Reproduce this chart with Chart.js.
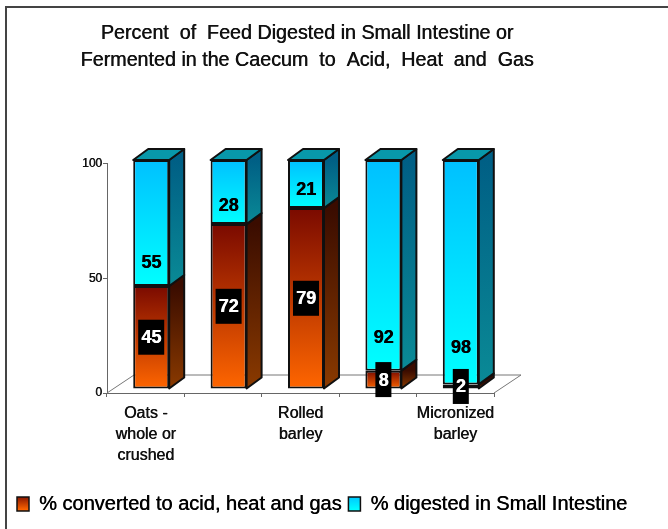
<!DOCTYPE html>
<html>
<head>
<meta charset="utf-8">
<style>
  html, body { margin: 0; padding: 0; background: #fff; }
  #wrap { position: relative; width: 668px; height: 529px; overflow: hidden; }
  #frame { position: absolute; left: 5px; top: 6px; width: 700px; height: 600px; border: 2px solid #444; }
  canvas { position: absolute; left: 0; top: 0; filter: blur(0.5px); }
</style>
<script src="https://cdn.jsdelivr.net/npm/chart.js@4/dist/chart.umd.min.js"></script>
</head>
<body>
<div id="wrap">
  <div id="frame"></div>
  <canvas id="myChart" width="668" height="529"></canvas>
</div>
<script>
const categories = [["Oats -", "whole or", "crushed"], "", ["Rolled", "barley"], "", ["Micronized", "barley"]];
const converted = [45, 72, 79, 8, 2];
const digested = [55, 28, 21, 92, 98];
const titleLines = ["Percent  of  Feed Digested in Small Intestine or", "Fermented in the Caecum  to  Acid,  Heat  and  Gas"];
const seriesNames = ["% converted to acid, heat and gas", "% digested in Small Intestine"];
const yTicks = [0, 50, 100];

// how far above the segment base the cyan labels sit, in px
const labelLift = [23, 18, 18, 33, 36];

const FONT = "'Liberation Sans', Arial, sans-serif";
const SHIFT_X = 5.5, SHIFT_Y = -4;   // bars stand a bit inside the floor
const DEPTH_X = 15, DEPTH_Y = -11;   // side faces
const FLOOR_X = 27, FLOOR_Y = -18;

// reference text is heavier than the regular face, so strike it twice
const canvas = document.getElementById("myChart");
const rawCtx = canvas.getContext("2d");
const plainFillText = rawCtx.fillText.bind(rawCtx);
rawCtx.fillText = function (t, x, y, m) {
  if (m === undefined) { plainFillText(t, x, y); plainFillText(t, x + 0.5, y); }
  else { plainFillText(t, x, y, m); plainFillText(t, x + 0.5, y, m); }
};

function barGradient(ctx, top, bottom, from, to) {
  let g = ctx.createLinearGradient(0, top, 0, bottom);
  g.addColorStop(0, from);
  g.addColorStop(1, to);
  return g;
}

// fill runs over one segment, from its top value down to its base value
function segmentFill(from, to, below) {
  return function (c) {
    if (c.type !== "data") return to;
    let y = c.chart.scales.y;
    let base = below ? below[c.dataIndex] : 0;
    let value = c.dataset.data[c.dataIndex];
    return barGradient(c.chart.ctx, y.getPixelForValue(base + value), y.getPixelForValue(base), from, to);
  };
}

function sideFace(ctx, el, from, to) {
  let right = el.x + el.width / 2;
  ctx.beginPath();
  ctx.moveTo(right, el.y);
  ctx.lineTo(right + DEPTH_X, el.y + DEPTH_Y);
  ctx.lineTo(right + DEPTH_X, el.base + DEPTH_Y);
  ctx.lineTo(right, el.base);
  ctx.closePath();
  ctx.fillStyle = barGradient(ctx, el.y, el.base, from, to);
  ctx.fill();
  ctx.stroke();
}

const depthPlugin = {
  id: "depth",
  afterLayout(chart) {
    // the title block is centred a little left of the page
    chart.titleBlock.left = 0;
    chart.titleBlock.right = 614;
  },
  beforeDatasetsDraw(chart) {
    let ctx = chart.ctx, a = chart.chartArea;
    ctx.save();
    // floor
    ctx.strokeStyle = "#777";
    ctx.lineWidth = 1;
    ctx.beginPath();
    ctx.moveTo(a.left, a.bottom);
    ctx.lineTo(a.left + FLOOR_X, a.bottom + FLOOR_Y);
    ctx.lineTo(a.right + FLOOR_X, a.bottom + FLOOR_Y);
    ctx.lineTo(a.right, a.bottom);
    ctx.stroke();
    ctx.restore();

    ctx.save();
    ctx.translate(SHIFT_X, SHIFT_Y);
    ctx.strokeStyle = "#101010";
    ctx.lineWidth = 2;
    ctx.lineJoin = "round";
    let low = chart.getDatasetMeta(0).data, high = chart.getDatasetMeta(1).data;
    low.forEach(function (el, i) {
      sideFace(ctx, el, "#3a0c00", "#8a3a00");
      let up = high[i];
      sideFace(ctx, up, "#005f85", "#0a8a96");
      let l = up.x - up.width / 2, r = up.x + up.width / 2;
      ctx.beginPath();
      ctx.moveTo(l, up.y);
      ctx.lineTo(l + DEPTH_X, up.y + DEPTH_Y);
      ctx.lineTo(r + DEPTH_X, up.y + DEPTH_Y);
      ctx.lineTo(r, up.y);
      ctx.closePath();
      ctx.fillStyle = "#0898aa";
      ctx.fill();
      ctx.stroke();
    });
    // bars get drawn next, still shifted
  },
  afterDatasetsDraw(chart) {
    let ctx = chart.ctx;
    let low = chart.getDatasetMeta(0).data, high = chart.getDatasetMeta(1).data;
    ctx.font = "bold 18px " + FONT;
    ctx.textAlign = "center";
    ctx.textBaseline = "middle";
    low.forEach(function (el, i) {
      let mid = (el.y + el.base) / 2;
      let w = ctx.measureText(String(converted[i])).width + 6;
      ctx.fillStyle = "#000";
      ctx.fillRect(el.x - w / 2, mid - 17.5, w, 35);
      ctx.fillStyle = "#fff";
      ctx.fillText(String(converted[i]), el.x, mid + 1);
      ctx.fillStyle = "#000";
      ctx.fillText(String(digested[i]), el.x, high[i].base - labelLift[i]);
    });
    ctx.restore();
  }
};

new Chart(canvas, {
  type: "bar",
  plugins: [depthPlugin],
  data: {
    labels: categories,
    datasets: [
      {
        label: seriesNames[0],
        data: converted,
        backgroundColor: segmentFill("#7a0a00", "#ff6600"),
        borderColor: "#101010",
        borderWidth: 2,
        borderSkipped: false,
        clip: false,
        barPercentage: 0.465,
        categoryPercentage: 1
      },
      {
        label: seriesNames[1],
        data: digested,
        backgroundColor: segmentFill("#00c0ff", "#00ffff", converted),
        borderColor: "#101010",
        borderWidth: 2,
        borderSkipped: false,
        clip: false,
        barPercentage: 0.465,
        categoryPercentage: 1
      }
    ]
  },
  options: {
    responsive: false,
    animation: false,
    layout: { padding: { left: 10, right: 0, top: 0, bottom: 5 } },
    plugins: {
      tooltip: { enabled: false },
      title: {
        display: true,
        text: titleLines,
        color: "#111",
        font: { family: FONT, size: 19.7, weight: "normal", lineHeight: 1.37 },
        padding: { top: 20, bottom: 90 }
      },
      legend: {
        position: "bottom",
        align: "start",
        labels: {
          color: "#111",
          font: { family: FONT, size: 20, weight: "normal" },
          boxWidth: 12,
          boxHeight: 14,
          padding: 7,
          generateLabels(chart) {
            let ctx = chart.ctx;
            return seriesNames.map(function (name, i) {
              return {
                text: name,
                datasetIndex: i,
                fillStyle: i === 0 ? barGradient(ctx, 495, 510, "#7a0a00", "#ff6600") : barGradient(ctx, 495, 510, "#00c0ff", "#00ffff"),
                strokeStyle: "#101010",
                lineWidth: 1.5
              };
            });
          }
        }
      }
    },
    scales: {
      x: {
        stacked: true,
        grid: { drawOnChartArea: false, tickLength: 4, color: "#666" },
        border: { color: "#666" },
        ticks: {
          autoSkip: false,
          maxRotation: 0,
          color: "#111",
          padding: 6,
          font: { family: FONT, size: 16, weight: "normal", lineHeight: 1.31 }
        },
        afterFit(s) { s.height = 94; }
      },
      y: {
        stacked: true,
        min: 0,
        max: 100,
        afterBuildTicks(s) { s.ticks = yTicks.map(function (v) { return { value: v }; }); },
        grid: { drawOnChartArea: false, tickLength: 4, color: "#666" },
        border: { color: "#666" },
        ticks: {
          color: "#111",
          padding: 1,
          font: { family: FONT, size: 12, weight: "normal" }
        },
        afterFit(s) { s.width = 97; }
      },
      right: {
        position: "right",
        ticks: { display: false },
        grid: { display: false },
        border: { display: false },
        afterFit(s) { s.width = 174; }
      }
    }
  }
});
</script>
</body>
</html>
